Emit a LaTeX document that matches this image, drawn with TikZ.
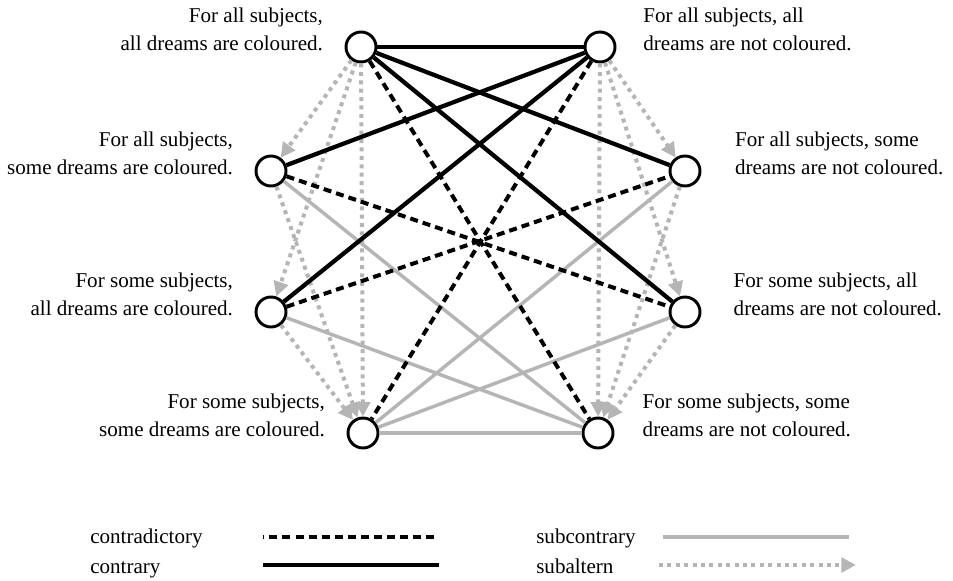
\documentclass[tikz,border=0pt]{standalone}
\usepackage{fontspec}
\setmainfont{Liberation Serif}
\usetikzlibrary{positioning,arrows.meta}

\definecolor{lightline}{gray}{0.71}

\begin{document}
\begin{tikzpicture}[x=0.75pt, y=-0.75pt,
    >={Triangle[length=11pt,width=11pt]},
    state/.style={draw, circle, line width=2.2pt, fill=white, minimum size=22.5pt, inner sep=0pt},
    txt/.style={inner sep=0pt, font=\fontsize{15.8}{21}\selectfont},
    contradictory/.style={draw, black, line width=3pt, dash pattern=on 6pt off 3.8pt},
    contrary/.style={draw, black, line width=3.2pt},
    subcontrary/.style={draw, lightline, line width=2.6pt},
    subaltern/.style={draw, lightline, line width=3pt, dash pattern=on 3pt off 3.3pt, ->}]
    \useasboundingbox (0,0) rectangle (953,581);

    % the eight propositions
    \node[state] (all_all) at (361,47) {};
    \node[state] (all_all_n) at (600,47) {};
    \node[state] (all_some) at (271,171) {};
    \node[state] (all_some_n) at (685,171) {};
    \node[state] (some_all) at (271,312) {};
    \node[state] (some_all_n) at (685,312) {};
    \node[state] (some_some) at (363,433) {};
    \node[state] (some_some_n) at (598,433) {};

    \node[txt, align=right, left=16pt of all_all, yshift=13.5pt] (all_all_txt) {For all subjects,\\ all dreams are coloured.};
    \node[txt, align=left, right=20pt of all_all_n, yshift=13.5pt] (all_all_n_txt) {For all subjects, all\\ dreams are not coloured.};
    \node[txt, align=right, left=16pt of all_some, yshift=13.5pt] (all_some_txt) {For all subjects,\\ some dreams are coloured.};
    \node[txt, align=left, right=25pt of all_some_n, yshift=13.5pt] (all_some_n_txt) {For all subjects, some\\ dreams are not coloured.};
    \node[txt, align=right, left=16pt of some_all, yshift=13.5pt] (some_all_txt) {For some subjects,\\ all dreams are coloured.};
    \node[txt, align=left, right=24pt of some_all_n, yshift=13.5pt] (some_all_n_txt) {For some subjects, all\\ dreams are not coloured.};
    \node[txt, align=right, left=16pt of some_some, yshift=13.5pt] (some_some_txt) {For some subjects,\\ some dreams are coloured.};
    \node[txt, align=left, right=21pt of some_some_n, yshift=13.5pt] (some_some_n_txt) {For some subjects, some\\ dreams are not coloured.};

    % grey relations first, black ones on top
    \path
    (all_all) edge[subaltern] (all_some)
    (all_all) edge[subaltern] (some_all)
    (all_all) edge[subaltern] (some_some)
    (all_some) edge[subaltern] (some_some)
    (some_all) edge[subaltern] (some_some)
    (all_all_n) edge[subaltern] (all_some_n)
    (all_all_n) edge[subaltern] (some_all_n)
    (all_all_n) edge[subaltern] (some_some_n)
    (all_some_n) edge[subaltern] (some_some_n)
    (some_all_n) edge[subaltern] (some_some_n);

    \path
    (some_some) edge[subcontrary] (some_some_n)
    (some_some) edge[subcontrary] (all_some_n)
    (some_some) edge[subcontrary] (some_all_n)
    (some_some_n) edge[subcontrary] (all_some)
    (some_some_n) edge[subcontrary] (some_all);

    \path
    (all_all) edge[contradictory] (some_some_n)
    (all_all_n) edge[contradictory] (some_some)
    (all_some) edge[contradictory] (some_all_n)
    (some_all) edge[contradictory] (all_some_n);

    \path
    (all_all) edge[contrary] (all_all_n)
    (all_all) edge[contrary] (all_some_n)
    (all_all) edge[contrary] (some_all_n)
    (all_all_n) edge[contrary] (all_some)
    (all_all_n) edge[contrary] (some_all);

    % key
    \node[txt, anchor=base west] (contradictory_key) at (90,543) {contradictory};
    \node[txt, anchor=base west] (contrary_key) at (90,573) {contrary};
    \node[txt, anchor=base west] (subcontrary_key) at (536,543) {subcontrary};
    \node[txt, anchor=base west] (subaltern_key) at (536,573) {subaltern};

    \coordinate (contradictory_a) at (263,537);
    \coordinate (contradictory_b) at (439,537);
    \coordinate (contrary_a) at (263,565);
    \coordinate (contrary_b) at (439,565);
    \coordinate (subcontrary_a) at (663,537);
    \coordinate (subcontrary_b) at (849,537);
    \coordinate (subaltern_a) at (659,565);
    \coordinate (subaltern_b) at (856,565);

    \path
    (contradictory_a) edge[contradictory, dash phase=5pt] (contradictory_b)
    (contrary_a) edge[contrary] (contrary_b)
    (subcontrary_a) edge[subcontrary] (subcontrary_b)
    (subaltern_a) edge[subaltern] (subaltern_b);
\end{tikzpicture}
\end{document}
